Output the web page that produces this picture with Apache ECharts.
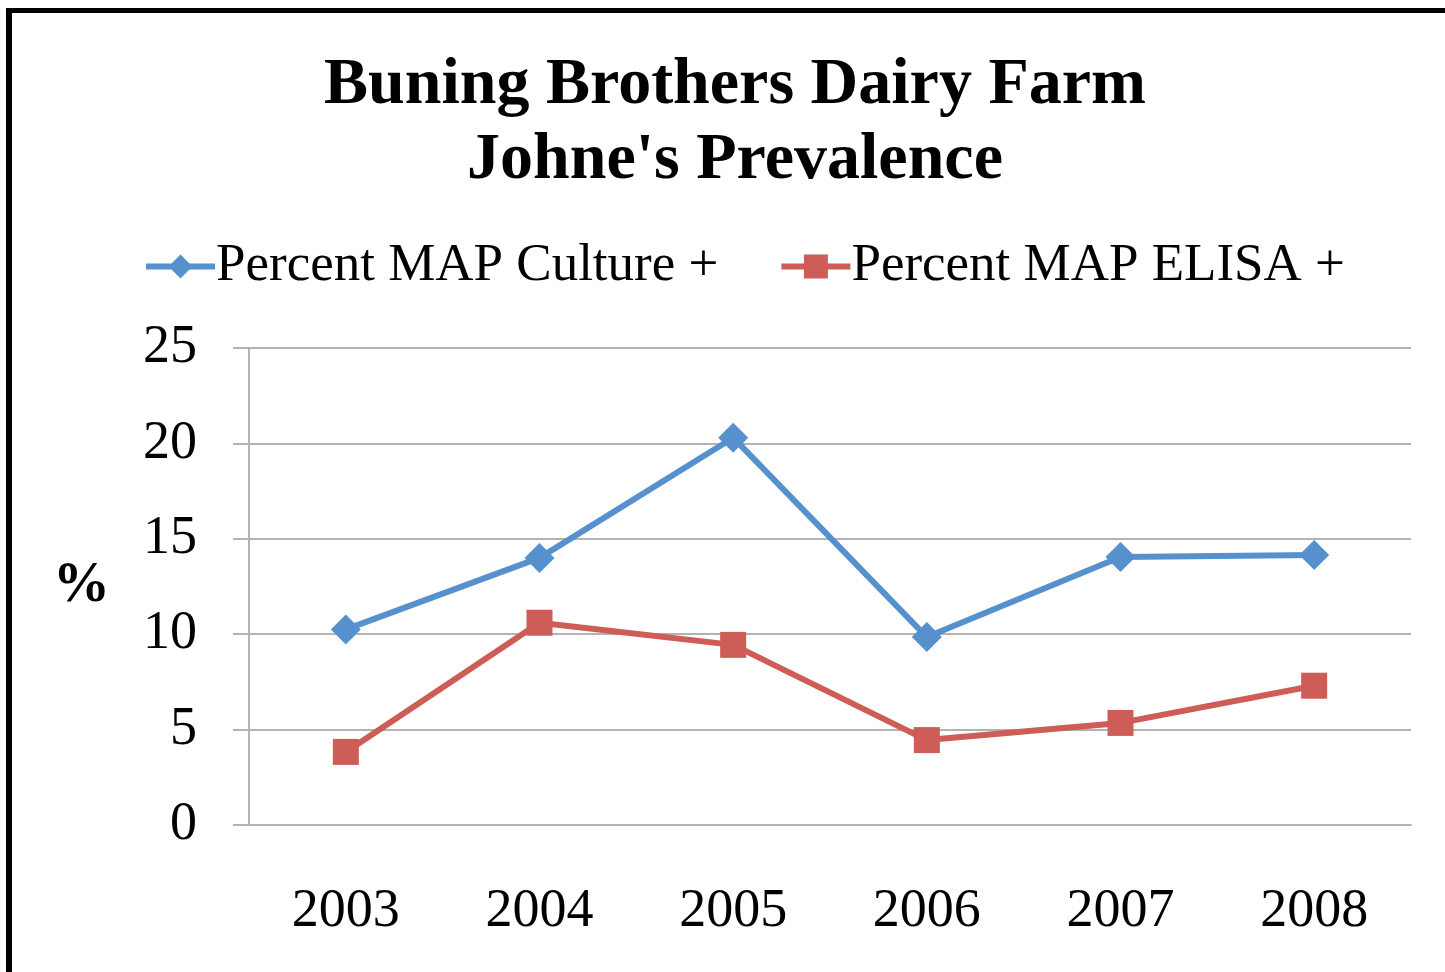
<!DOCTYPE html>
<html><head><meta charset="utf-8">
<script src="https://cdn.jsdelivr.net/npm/echarts@6/dist/echarts.min.js"></script>
<style>
html,body{margin:0;padding:0;background:#fff;}
#frame{position:absolute;left:6px;top:8px;width:1439px;height:964px;border-left:6px solid #000;border-top:5px solid #000;box-sizing:border-box;}
#c{position:absolute;left:0;top:0;width:1445px;height:972px;}
</style></head>
<body>
<div id="frame"></div>
<div id="c"></div>
<script>
const titleLines = ["Buning Brothers Dairy Farm", "Johne's Prevalence"];
const years = ["2003", "2004", "2005", "2006", "2007", "2008"];
const seriesNames = ["Percent MAP Culture +", "Percent MAP ELISA +"];
const cultureValues = [10.25, 14.0, 20.3, 9.85, 14.05, 14.15];
const elisaValues = [3.83, 10.6, 9.44, 4.45, 5.35, 7.3];
const yTicks = [0, 5, 10, 15, 20, 25];

const FONT = "Liberation Serif";
const BLUE = '#5791CD', RED = '#CD5D56';
const chart = echarts.init(document.getElementById('c'));
chart.setOption({
  backgroundColor: 'transparent',
  animation: false,
  title: {
    text: titleLines.join('\n'),
    left: 730, textAlign: 'center', top: 43,
    textStyle: {fontFamily: FONT, fontWeight: 'bold', fontSize: 66, color: '#000', lineHeight: 75}
  },
  legend: {
    top: 235, left: 138,
    itemWidth: 69, itemHeight: 30, itemGap: 60,
    lineStyle: {width: 6},
    textStyle: {fontFamily: FONT, fontSize: 53, color: '#000', padding: [0,0,0,-4]},
    data: seriesNames
  },
  grid: {left: 249, right: 34, top: 348, bottom: 147, containLabel: false},
  xAxis: {
    type: 'category', data: years, boundaryGap: true,
    axisLine: {lineStyle: {color: '#b3b3b3', width: 2}},
    axisTick: {length: 16, lineStyle: {color: '#b3b3b3', width: 2}},
    axisLabel: {fontFamily: FONT, fontSize: 54, color: '#000', margin: 60}
  },
  yAxis: {
    type: 'value', min: yTicks[0], max: yTicks[yTicks.length-1], interval: 5,
    name: '%', nameLocation: 'middle', nameRotate: 0, nameGap: 139,
    nameTextStyle: {fontFamily: FONT, fontSize: 57, fontWeight: 'bold', color: '#000'},
    axisLine: {show: true, lineStyle: {color: '#b3b3b3', width: 2}},
    axisTick: {show: true, length: 16, lineStyle: {color: '#b3b3b3', width: 2}},
    splitLine: {lineStyle: {color: '#b3b3b3', width: 2}},
    axisLabel: {fontFamily: FONT, fontSize: 54, color: '#000', margin: 52}
  },
  series: [
    {name: seriesNames[0], type: 'line', data: cultureValues,
     symbol: 'diamond', symbolSize: 30,
     lineStyle: {color: BLUE, width: 6}, itemStyle: {color: BLUE}},
    {name: seriesNames[1], type: 'line', data: elisaValues,
     symbol: 'rect', symbolSize: 26,
     lineStyle: {color: RED, width: 6}, itemStyle: {color: RED}}
  ]
});
</script>
</body></html>
